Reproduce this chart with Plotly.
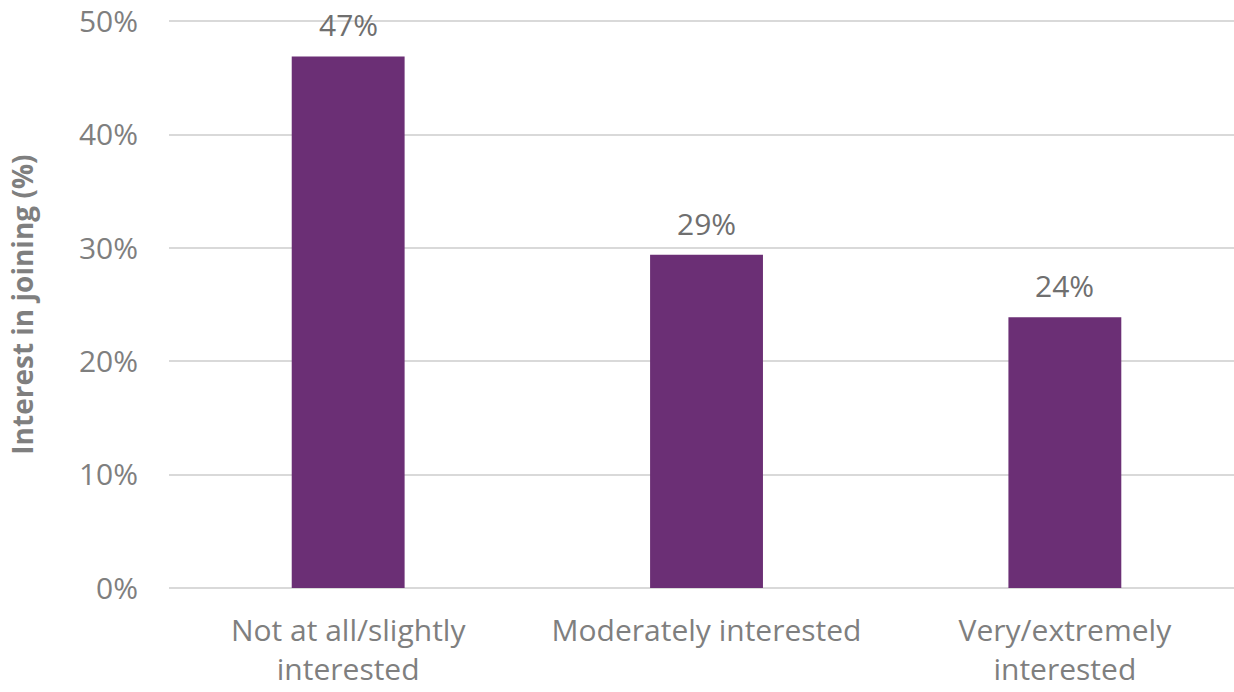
import plotly.graph_objects as go

categories = ["Not at all/slightly<br>interested", "Moderately interested", "Very/extremely<br>interested"]
shares = [0.469, 0.294, 0.239]
y_ticks = [0, 0.1, 0.2, 0.3, 0.4, 0.5]
y_tick_labels = ["0%", "10%", "20%", "30%", "40%", "50%"]

FONT = "Open Sans"
GREY = "#7f7f7f"

fig = go.Figure(
    go.Bar(
        x=categories,
        y=shares,
        width=0.315,
        marker=dict(color="#6b2f75", line=dict(width=0)),
        hoverinfo="skip",
    )
)

# value labels sitting above each bar
for cat, val in zip(categories, shares):
    fig.add_annotation(
        x=cat,
        y=val,
        text=f"{val:.0%}",
        showarrow=False,
        yanchor="bottom",
        yshift=9,
        font=dict(family=FONT, size=30, color="#6f6f6f"),
    )

# vertical axis title
fig.add_annotation(
    xref="paper",
    yref="paper",
    x=0,
    y=0.5 * 0.5 / 0.51,
    xshift=-147,
    text="<b>Interest in joining (%)</b>",
    textangle=-90,
    showarrow=False,
    xanchor="center",
    yanchor="middle",
    font=dict(family=FONT, size=28, color=GREY),
)

fig.update_layout(
    width=1234,
    height=692,
    margin=dict(l=169, r=0, t=10, b=104, autoexpand=False),
    paper_bgcolor="white",
    plot_bgcolor="white",
    showlegend=False,
    font=dict(family=FONT, color=GREY),
    xaxis=dict(
        range=[-0.5, 2.472],
        showgrid=False,
        showline=False,
        ticks="",
        automargin=False,
        ticklabelstandoff=22,
        ticklabeloverflow="allow",
        tickfont=dict(family=FONT, size=30, color=GREY),
    ),
    yaxis=dict(
        range=[0, 0.51],
        tickvals=y_ticks,
        ticktext=y_tick_labels,
        showgrid=True,
        gridcolor="#d9d9d9",
        gridwidth=1.5,
        zeroline=True,
        zerolinecolor="#d9d9d9",
        zerolinewidth=1.5,
        ticks="",
        automargin=False,
        ticklabelstandoff=30,
        ticklabeloverflow="allow",
        tickfont=dict(family=FONT, size=30, color=GREY),
    ),
)

fig.write_html("out.html")
